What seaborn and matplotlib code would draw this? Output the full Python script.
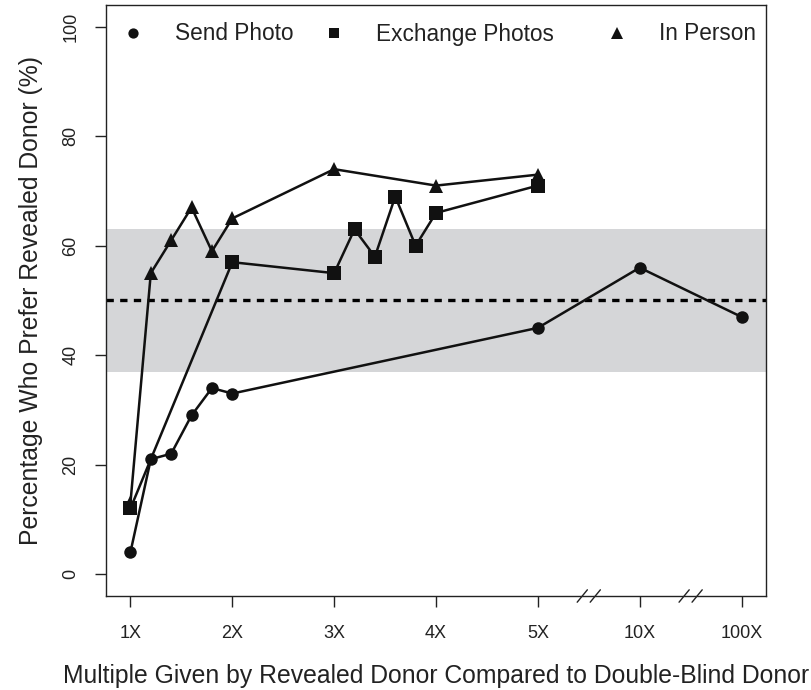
import numpy as np
import pandas as pd
import seaborn as sns
import matplotlib
matplotlib.use("Agg")
import matplotlib.pyplot as plt
from matplotlib.lines import Line2D
from matplotlib.legend import Legend
from matplotlib.transforms import blended_transform_factory
import matplotlib.transforms as mtransforms

# ---- data ----
tick_pos = [1, 2, 3, 4, 5, 6, 7]
tick_labels = ["1X", "2X", "3X", "4X", "5X", "10X", "100X"]

send_x = [1, 1.2, 1.4, 1.6, 1.8, 2, 5, 6, 7]
send_y = [4, 21, 22, 29, 34, 33, 45, 56, 47]

exch_x = [1, 2, 3, 3.2, 3.4, 3.6, 3.8, 4, 5]
exch_y = [12, 57, 55, 63, 58, 69, 60, 66, 71]

pers_x = [1, 1.2, 1.4, 1.6, 1.8, 2, 3, 4, 5]
pers_y = [13, 55, 61, 67, 59, 65, 74, 71, 73]

band_low, band_high = 37, 63
ref_line = 50
series_names = ["Send Photo", "Exchange Photos", "In Person"]

sns.set_style("ticks")
plt.rcParams["font.family"] = ["Liberation Sans", "DejaVu Sans"]

fig = plt.figure(figsize=(8.12, 6.9), dpi=100)
ax = fig.add_axes([106 / 812, 94 / 690, 660 / 812, 591 / 690])

ax.axhspan(band_low, band_high, color="#d5d6d8", lw=0, zorder=0)
ax.axhline(ref_line, color="black", lw=2.4, linestyle=(0, (2.2, 1.9)), zorder=1)

markers = ["o", "s", "^"]
msizes = [9, 9.4, 10.5]
for xs, ys, m, ms in zip([send_x, exch_x, pers_x], [send_y, exch_y, pers_y], markers, msizes):
    df = pd.DataFrame({"x": xs, "y": ys})
    sns.lineplot(data=df, x="x", y="y", ax=ax, color="#111111", lw=1.8,
                 marker=m, markersize=ms, markeredgewidth=0, sort=False,
                 estimator=None, zorder=3)

ax.set_xlim(0.76, 7.24)
ax.set_ylim(-4, 104)
ax.set_xticks(tick_pos)
ax.set_xticklabels(tick_labels)
ax.set_yticks([0, 20, 40, 60, 80, 100])
ax.set_yticklabels(["0", "20", "40", "60", "80", "100"], rotation=90, va="center")
ax.tick_params(axis="both", length=8, width=1, color="#222222", labelsize=13, labelcolor="#222222")
ax.tick_params(axis="x", pad=13)
ax.tick_params(axis="y", pad=11)
for s in ax.spines.values():
    s.set_color("#222222")
    s.set_linewidth(1.0)

ax.set_xlabel("Multiple Given by Revealed Donor Compared to Double-Blind Donor",
              fontsize=17.8, color="#222222", labelpad=16)
ax.set_ylabel("Percentage Who Prefer Revealed Donor (%)", fontsize=17.8,
              color="#222222", labelpad=14)

# axis break marks
trans = blended_transform_factory(ax.transData, ax.transAxes)
for bx in [5.5, 6.5]:
    for dx in [-6.5, 6.5]:
        t = mtransforms.offset_copy(trans, fig=fig, x=dx, y=0, units="dots")
        ax.add_line(Line2D([bx - 0.05, bx + 0.05], [-0.0105, 0.0105], transform=t,
                           color="#222222", lw=1.0, clip_on=False))

# legend (three separate single-entry legends to mimic column layout)
fs = 16.3
handle_px = fs * 100 / 72 / 2
legend_x_px = [133, 334, 617]
for name, m, ms, xp in zip(series_names, markers, msizes, legend_x_px):
    h = Line2D([], [], color="#111111", marker=m, markersize=ms * 0.82, linestyle="none",
               markeredgewidth=0)
    leg = Legend(ax, [h], [name], loc="center left",
                 bbox_to_anchor=((xp - handle_px - 106) / 660, (596 - 34) / 591),
                 frameon=False, fontsize=fs, handlelength=1.0, handletextpad=1.37,
                 borderpad=0, borderaxespad=0, labelcolor="#222222")
    ax.add_artist(leg)

fig.savefig("out.png", dpi=100)
